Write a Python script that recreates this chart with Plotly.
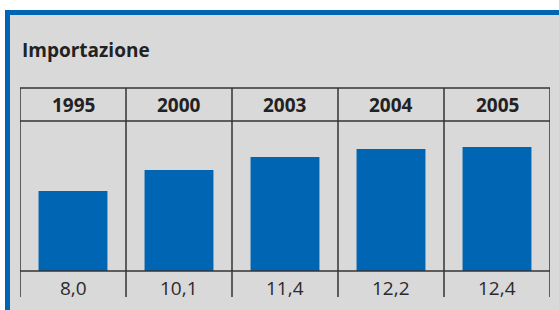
import plotly.graph_objects as go

years = ["1995", "2000", "2003", "2004", "2005"]
values = [8.0, 10.1, 11.4, 12.2, 12.4]
title_text = "Importazione"

W, H = 559, 310
L, R, T, B = 20, 550, 121, 271  # plot area pixel edges
pw, ph = R - L, B - T

def px_x(x):
    return (x - L) / pw

def px_y(y):
    return (B - y) / ph

line_col = "#333333"
blue = "#0066b3"
gray = "#d9d9d9"
font_fam = "Open Sans"

idx = list(range(len(years)))

fig = go.Figure()
fig.add_trace(go.Bar(x=idx, y=values, marker=dict(color=blue, line=dict(width=0)),
                     width=0.65, hoverinfo="skip"))

shapes = []
# gray panel
shapes.append(dict(type="rect", xref="paper", yref="paper", x0=px_x(10), x1=px_x(W + 5),
                   y0=px_y(H + 5), y1=px_y(15), fillcolor=gray, line=dict(width=0), layer="below"))
# blue top border
shapes.append(dict(type="rect", xref="paper", yref="paper", x0=px_x(5), x1=px_x(W + 5),
                   y0=px_y(15), y1=px_y(10), fillcolor=blue, line=dict(width=0), layer="below"))
# blue left border
shapes.append(dict(type="rect", xref="paper", yref="paper", x0=px_x(5), x1=px_x(10),
                   y0=px_y(H + 5), y1=px_y(10), fillcolor=blue, line=dict(width=0), layer="below"))
# horizontal table lines
for yy in [88, 121, 271]:
    shapes.append(dict(type="line", xref="paper", yref="paper", x0=0, x1=1,
                       y0=px_y(yy), y1=px_y(yy), line=dict(color=line_col, width=1.5)))
# vertical lines
for i in range(len(years) + 1):
    shapes.append(dict(type="line", xref="x", yref="paper", x0=i - 0.5, x1=i - 0.5,
                       y0=px_y(297), y1=px_y(88), line=dict(color=line_col, width=1.5)))

annotations = [dict(text="<b>%s</b>" % title_text, xref="paper", yref="paper",
                    x=px_x(20), y=px_y(50), xanchor="left", yanchor="middle", showarrow=False,
                    font=dict(family=font_fam, size=19, color="#222222"))]
for i, yr, v in zip(idx, years, values):
    annotations.append(dict(text="<b>%s</b>" % yr, xref="x", yref="paper", x=i, y=px_y(105),
                            xanchor="center", yanchor="middle", showarrow=False,
                            font=dict(family=font_fam, size=19, color="#222222")))
    annotations.append(dict(text=f"{v:.1f}".replace(".", ","), xref="x", yref="paper", x=i,
                            y=px_y(288), xanchor="center", yanchor="middle", showarrow=False,
                            font=dict(family=font_fam, size=19, color="#2a2a2a")))

fig.update_layout(
    width=W, height=H,
    margin=dict(l=L, r=W - R, t=T, b=H - B, pad=0),
    paper_bgcolor="white", plot_bgcolor="rgba(0,0,0,0)",
    showlegend=False,
    xaxis=dict(range=[-0.5, 4.5], showticklabels=False, showgrid=False,
               zeroline=False, showline=False, ticks="", fixedrange=True),
    yaxis=dict(range=[0, 15], showticklabels=False, showgrid=False, zeroline=False,
               showline=False, ticks="", fixedrange=True),
    shapes=shapes, annotations=annotations,
)
fig.write_html("out.html", config={"displayModeBar": False},
               post_script="document.body.style.margin='0';document.body.style.overflow='hidden';")
